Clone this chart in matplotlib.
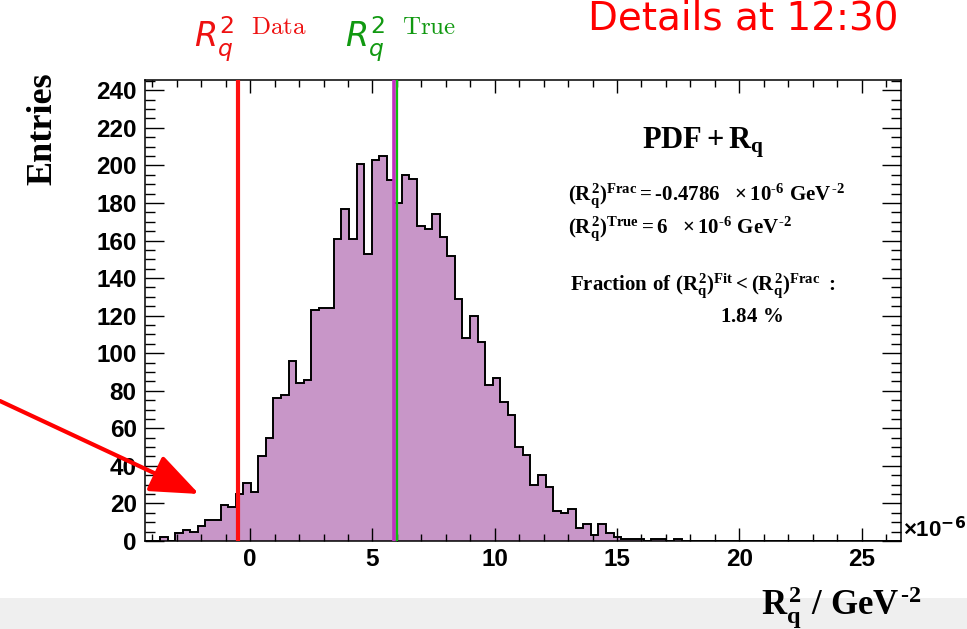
import numpy as np
import matplotlib
matplotlib.use("Agg")
import matplotlib.pyplot as plt
from matplotlib.patches import FancyArrowPatch, Rectangle
from matplotlib.ticker import MultipleLocator

# ---------------- data ----------------
hist_range = (-4.3, 26.6)
n_bins = 100
counts = [0, 0, 2, 0, 4, 6, 5, 8, 11, 11,
          19, 18, 25, 31, 26, 45, 55, 76, 78, 96,
          84, 86, 123, 124, 124, 161, 177, 161, 201, 153,
          203, 205, 192, 180, 195, 193, 168, 166, 174, 162,
          152, 129, 108, 120, 106, 83, 87, 74, 67, 50,
          46, 30, 35, 29, 16, 15, 17, 7, 9, 3,
          9, 4, 2, 1, 1, 1, 0, 1, 1, 0,
          1, 0, 0, 0, 0, 0, 0, 0, 0, 0,
          0, 0, 0, 0, 0, 0, 0, 0, 0, 0,
          0, 0, 0, 0, 0, 0, 0, 0, 0, 0]
data_value = -0.4786
true_value = 6.0
mean_value = 5.88
x_ticks = [0, 5, 10, 15, 20, 25]
y_ticks = [0, 20, 40, 60, 80, 100, 120, 140, 160, 180, 200, 220, 240]

# ---------------- style ----------------
plt.rcParams['mathtext.fontset'] = 'custom'
plt.rcParams['mathtext.rm'] = 'Liberation Serif:bold'
plt.rcParams['mathtext.it'] = 'Liberation Serif:bold'
plt.rcParams['mathtext.bf'] = 'Liberation Serif:bold'
plt.rcParams['font.family'] = ['Liberation Sans', 'DejaVu Sans']

W, H = 967, 629
fig = plt.figure(figsize=(W / 100, H / 100), dpi=100)

# light grey band at bottom
fig.add_artist(Rectangle((0, 0), 1, 31 / H, transform=fig.transFigure,
                         facecolor='#efefef', edgecolor='none', zorder=-10))

ax = fig.add_axes([145 / W, 1 - 541 / H, (900.7 - 145) / W, (541 - 80) / H])
edges = np.linspace(hist_range[0], hist_range[1], n_bins + 1)
ax.stairs(counts, edges, fill=True, color='#c896c8', zorder=1)
ax.stairs(counts, edges, color='black', lw=1.4, zorder=2)

ax.axvline(data_value, color='#ff1010', lw=3, zorder=3)
ax.axvline(mean_value, color='#c030c0', lw=2.6, zorder=3)
ax.axvline(true_value, color='#10c010', lw=1.6, zorder=4)

ax.set_xlim(hist_range)
ax.set_ylim(0, 245.5)
ax.set_xticks(x_ticks)
ax.set_yticks(y_ticks)
ax.xaxis.set_minor_locator(MultipleLocator(1))
ax.yaxis.set_minor_locator(MultipleLocator(5))
ax.tick_params(which='both', direction='in', top=True, right=True, width=1.0)
ax.xaxis.set_tick_params(which='major', length=9.5, pad=5)
ax.xaxis.set_tick_params(which='minor', length=5)
ax.yaxis.set_tick_params(which='major', length=14, pad=6)
ax.yaxis.set_tick_params(which='minor', length=7)
for lab in ax.get_xticklabels() + ax.get_yticklabels():
    lab.set_fontweight('bold')
    lab.set_fontsize(17.5)
for s in ax.spines.values():
    s.set_linewidth(1.1)

def px(x, y):
    return x / W, 1 - y / H

# axis titles
fig.text(*px(43, 72), 'Entries', rotation=90, ha='center', va='top',
         family='Liberation Serif', fontweight='bold', fontsize=26)
fig.text(*px(922, 614), r'$R_q^2\ /\ GeV^{\text{-}2}$', ha='right', va='baseline',
         fontsize=25, math_fontfamily='custom')
fig.text(*px(903, 537), r'×10$^{\mathbf{-6}}$', ha='left', va='baseline',
         fontsize=16, fontweight='bold', math_fontfamily='dejavusans')

# info text block
fig.text(*px(703, 149), r'$PDF + R_q$', ha='center', va='baseline',
         fontsize=22, math_fontfamily='custom')
fig.text(*px(568, 200), r'$(R_q^2)^{Frac} = \text{-}0.4786\ \ \times 10^{\text{-}6}\ GeV^{\text{-}2}$',
         ha='left', va='baseline', fontsize=15, math_fontfamily='custom')
fig.text(*px(568, 233), r'$(R_q^2)^{True} = 6\ \ \times 10^{\text{-}6}\ GeV^{\text{-}2}$',
         ha='left', va='baseline', fontsize=15, math_fontfamily='custom')
fig.text(*px(570, 290), r'$Fraction\ of\ (R_q^2)^{Fit} < (R_q^2)^{Frac}\ :$',
         ha='left', va='baseline', fontsize=15, math_fontfamily='custom')
fig.text(*px(752, 322), r'$1.84\ \%$', ha='center', va='baseline',
         fontsize=15, math_fontfamily='custom')

# coloured labels on top
fig.text(*px(194, 48), r'$R_q^2$', ha='left', va='baseline', color='#ee1111',
         fontsize=24, math_fontfamily='dejavusans')
fig.text(*px(251, 34), r'$\mathrm{Data}$', ha='left', va='baseline', color='#ee1111',
         fontsize=18, math_fontfamily='cm')
fig.text(*px(345, 48), r'$R_q^2$', ha='left', va='baseline', color='#119911',
         fontsize=24, math_fontfamily='dejavusans')
fig.text(*px(402, 34), r'$\mathrm{True}$', ha='left', va='baseline', color='#119911',
         fontsize=18, math_fontfamily='cm')

# red overlay text at top right
fig.text(*px(588, 29), 'Details at 12:30', ha='left', va='baseline', color='red',
         fontsize=28, family='DejaVu Sans')

# red arrow
arrow = FancyArrowPatch(px(0, 401), px(199, 494), transform=fig.transFigure,
                        arrowstyle='-|>,head_length=3.0,head_width=1.2',
                        mutation_scale=10, color='red', lw=3,
                        shrinkA=0, shrinkB=0, zorder=20)
fig.add_artist(arrow)

fig.savefig('out.png', dpi=100)
